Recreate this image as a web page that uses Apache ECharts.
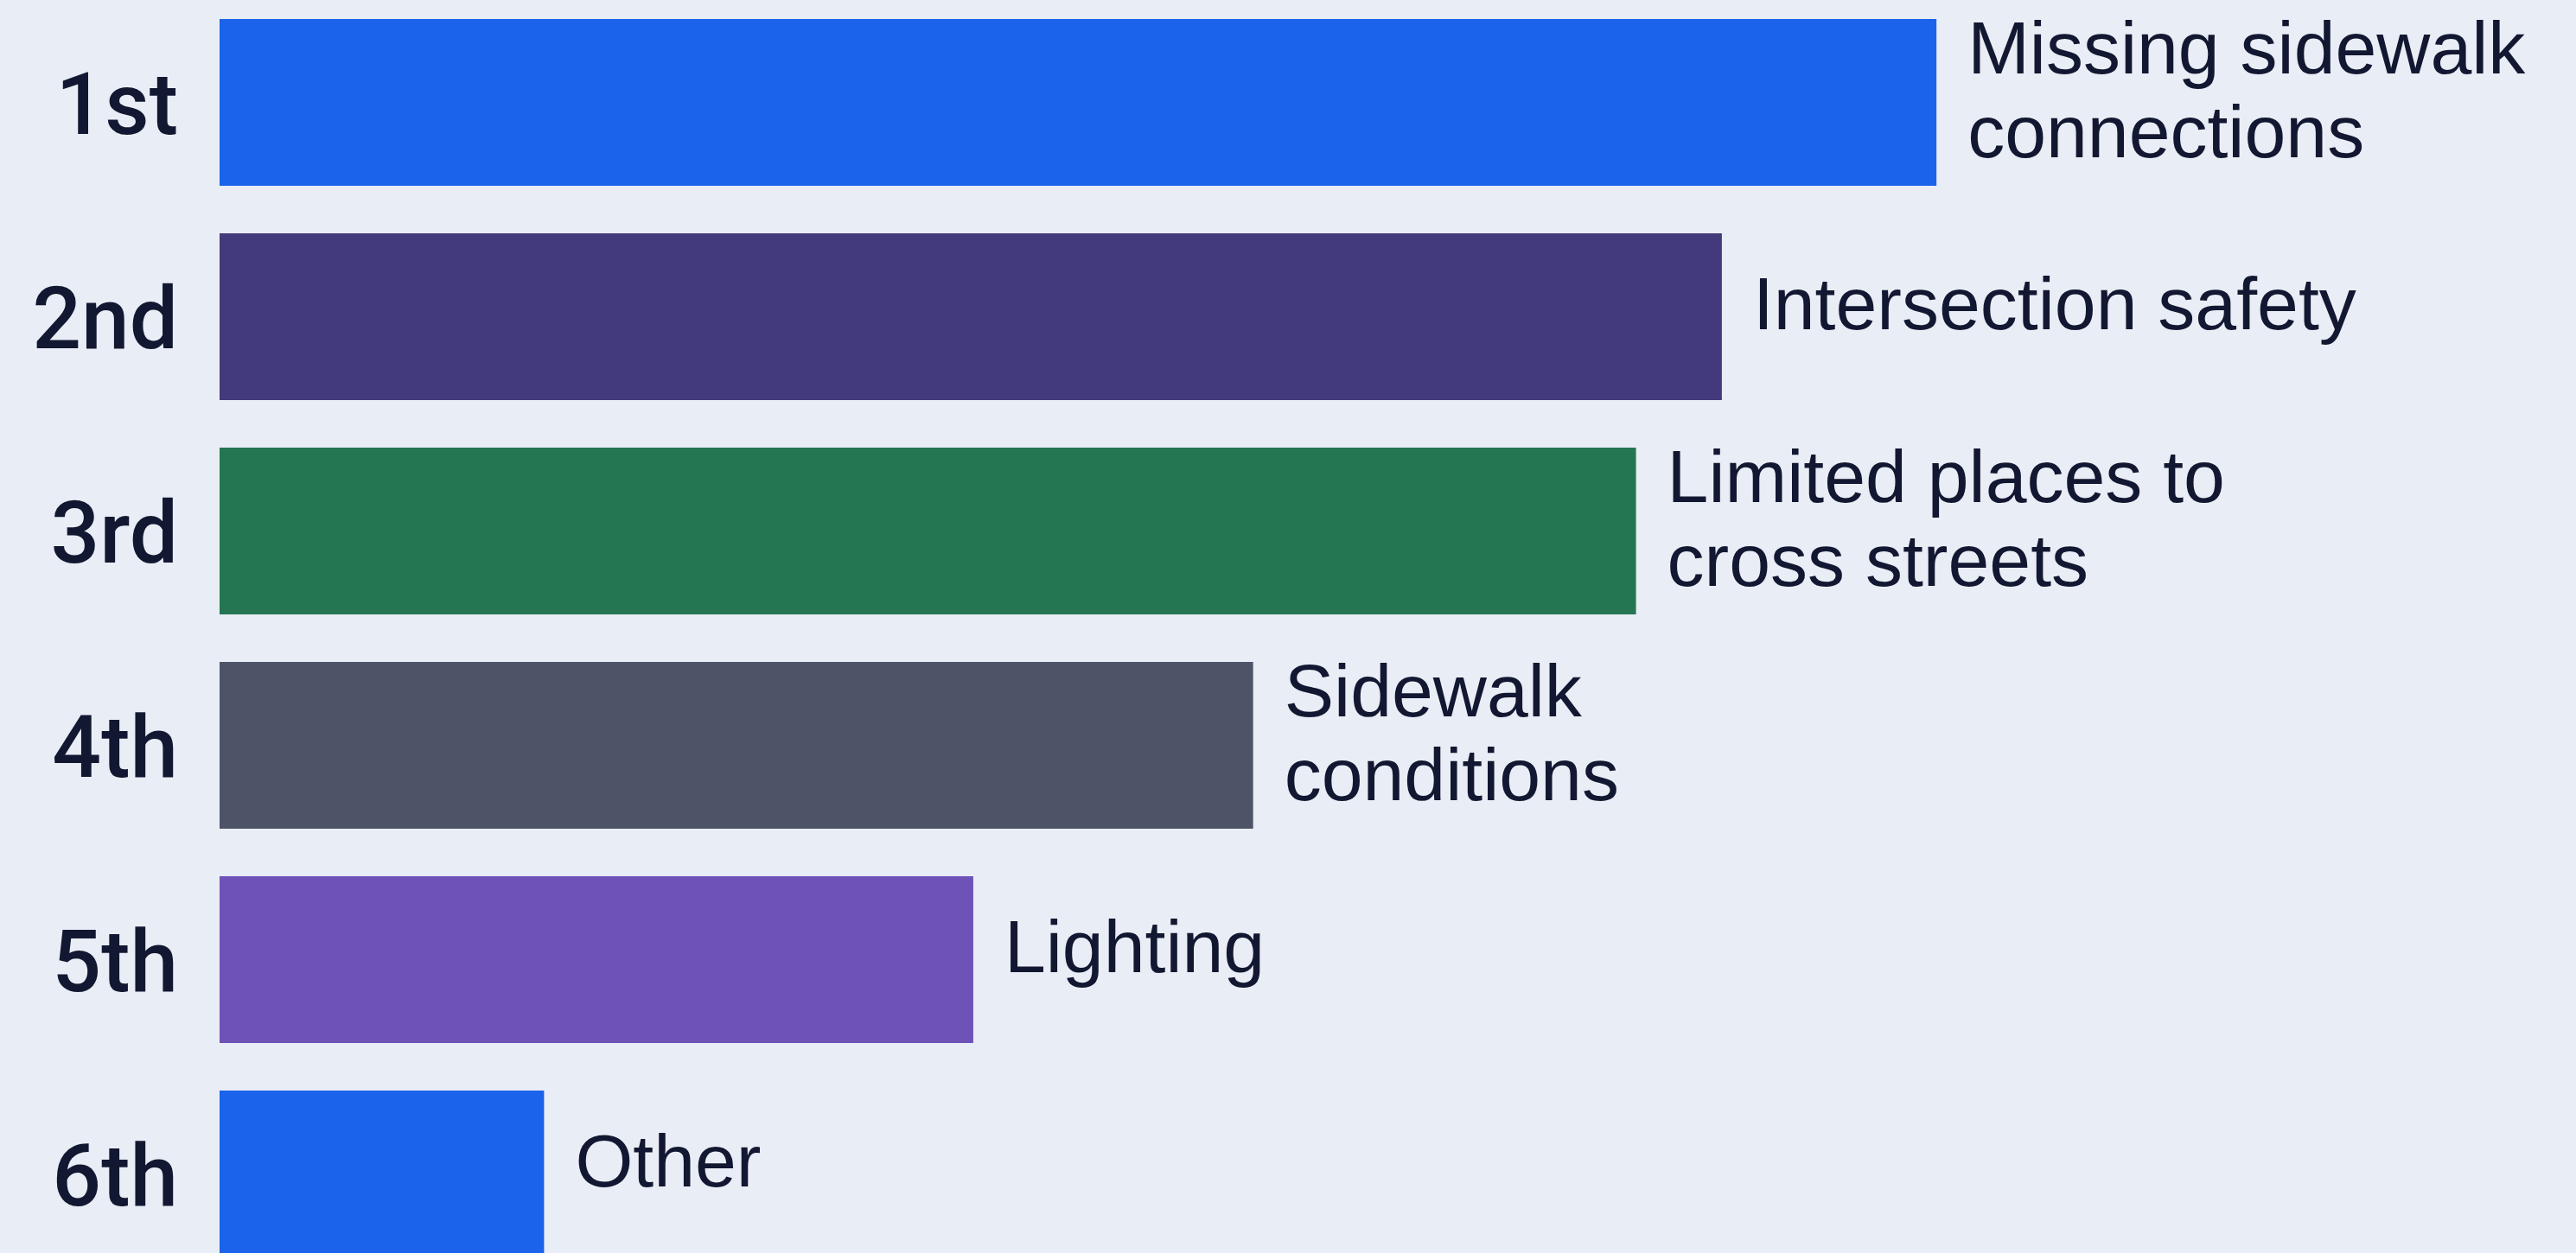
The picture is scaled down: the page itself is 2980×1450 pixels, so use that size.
<!DOCTYPE html>
<html>
<head>
<meta charset="utf-8">
<script src="https://cdn.jsdelivr.net/npm/echarts@6/dist/echarts.min.js"></script>
<style>
  html, body { margin: 0; padding: 0; background: #e9edf5; }
  #chart { width: 2980px; height: 1450px; }
</style>
</head>
<body>
<div id="chart"></div>
<script>
// ranks and what each rank is
const ranks = ['1st', '2nd', '3rd', '4th', '5th', '6th'];
const issues = [
  'Missing sidewalk\nconnections',
  'Intersection safety',
  'Limited places to\ncross streets',
  'Sidewalk\nconditions',
  'Lighting',
  'Other'
];
// relative score (bar length), 1st = 100
const scores = [100, 87.5, 82.5, 60.2, 43.9, 18.9];

const barColors = ['#1a63ea', '#433a7b', '#237651', '#4d5467', '#6f52b8', '#1a63ea'];
const textColor = '#121831';

const chart = echarts.init(document.getElementById('chart'));

chart.setOption({
  backgroundColor: '#e9edf5',
  animation: false,
  grid: {
    left: 254,
    right: 144,
    top: -5.5,
    bottom: -32.5,
    containLabel: false,
    outerBoundsMode: 'none'
  },
  xAxis: {
    type: 'value',
    min: 0,
    max: 130,
    show: false
  },
  yAxis: {
    type: 'category',
    inverse: true,
    data: ranks,
    axisLine: { show: false },
    axisTick: { show: false },
    splitLine: { show: false },
    axisLabel: {
      margin: 48,
      color: textColor,
      fontFamily: 'Roboto',
      fontWeight: 500,
      fontSize: 100,
      // push the rank a bit below the bar's middle, as in the picture
      verticalAlign: 'top',
      lineHeight: 22
    }
  },
  series: [
    {
      type: 'bar',
      barCategoryGap: '22.2%',
      data: scores.map((v, i) => ({
        value: v,
        itemStyle: { color: barColors[i] }
      })),
      label: {
        show: true,
        position: 'right',
        distance: 36,
        offset: [0, -9],
        color: textColor,
        fontFamily: 'Liberation Sans',
        fontSize: 86,
        lineHeight: 97,
        formatter: (p) => issues[p.dataIndex]
      }
    }
  ]
});
</script>
</body>
</html>
